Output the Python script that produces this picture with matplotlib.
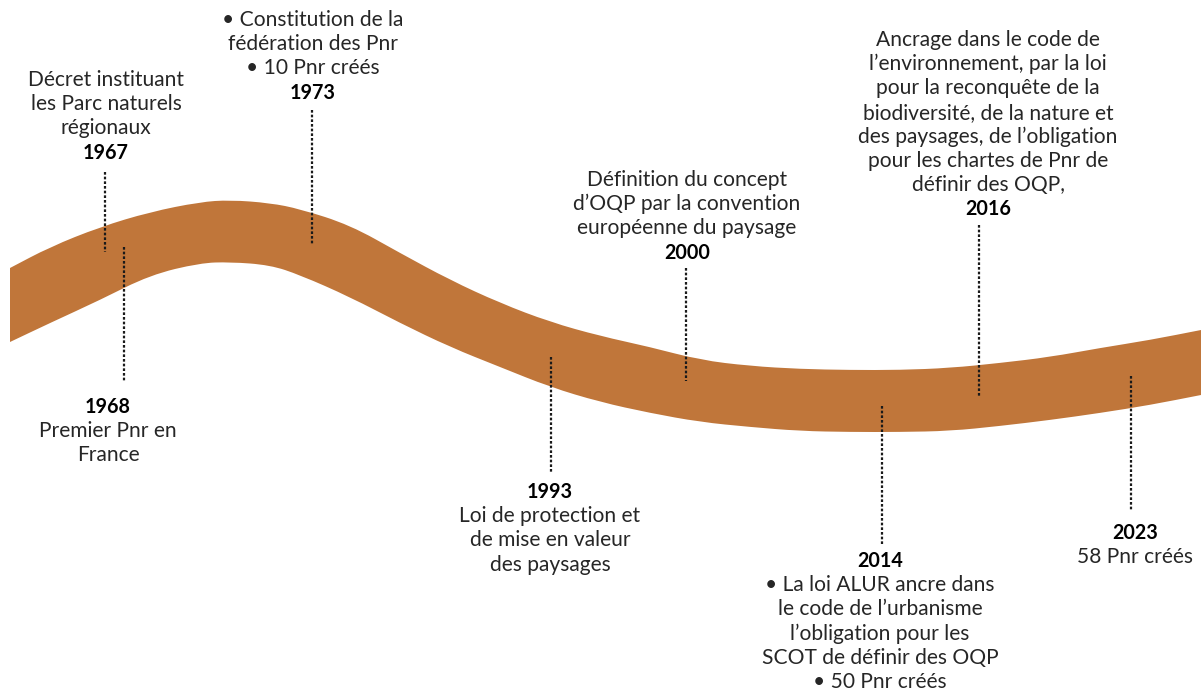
import numpy as np
import matplotlib.pyplot as plt
from matplotlib.path import Path
from matplotlib.patches import PathPatch

# Band outline (pixel coords, y goes down)
band_x   = [10, 50, 100, 150, 200, 230, 270, 300, 350, 400, 450, 500, 550, 600,
            650, 700, 750, 800, 850, 900, 950, 1000, 1050, 1100, 1150, 1201]
band_top = [268, 247, 227, 212, 202, 200, 203, 209, 225, 253, 280, 303, 322, 336,
            347, 360, 366, 369, 370, 370, 368, 363, 357, 348, 340, 330]
band_bot = [342, 323, 300, 275, 263, 262, 265, 275, 297, 323, 347, 367, 387, 402,
            413, 422, 427, 431, 432, 432, 431, 426, 420, 413, 405, 395]

# Events
years = ['1967', '1968', '1973', '1993', '2000', '2014', '2016', '2023']
texts = [
    ['Décret instituant', 'les Parc naturels', 'régionaux'],
    ['Premier Pnr en', 'France'],
    ['• Constitution de la', 'fédération des Pnr', '• 10 Pnr créés'],
    ['Loi de protection et', 'de mise en valeur', 'des paysages'],
    ['Définition du concept', 'd\u2019OQP par la convention', 'européenne du paysage'],
    ['• La loi ALUR ancre dans', 'le code de l\u2019urbanisme', 'l\u2019obligation pour les',
     'SCOT de définir des OQP', '• 50 Pnr créés'],
    ['Ancrage dans le code de', 'l\u2019environnement, par la loi', 'pour la reconquête de la',
     'biodiversité, de la nature et', 'des paysages, de l\u2019obligation',
     'pour les chartes de Pnr de', 'définir des OQP,'],
    ['58 Pnr créés'],
]

# layout: text above or below the band
side    = ['above', 'below', 'above', 'below', 'above', 'below', 'above', 'below']
line_x  = [105, 124, 312, 551, 686, 882, 979, 1131]
line_y0 = [172, 247, 110, 357, 268, 406, 225, 376]
line_y1 = [252, 382, 245, 472, 381, 545, 397, 510]
text_x  = [106, 108, 313, 550, 687, 880, 988, 1135]
text_y0 = [80, 407, 20, 492, 180, 561, 40, 533]  # centre of first line
LINE_H = 24.2

BAND_COLOR = '#C0763A'
TEXT_COLOR = '#262626'
FONT = 'Lato'
FS = 15.1
FS_YEAR = 14.2


def smooth_path(xs, ys):
    pts = list(zip(xs, ys))
    verts = [pts[0]]
    codes = [Path.LINETO]
    mids = [((pts[i][0] + pts[i + 1][0]) / 2, (pts[i][1] + pts[i + 1][1]) / 2)
            for i in range(len(pts) - 1)]
    verts.append(mids[0]); codes.append(Path.LINETO)
    for i in range(1, len(pts) - 1):
        verts += [pts[i], mids[i]]
        codes += [Path.CURVE3, Path.CURVE3]
    verts.append(pts[-1]); codes.append(Path.LINETO)
    return verts, codes


fig = plt.figure(figsize=(12.01, 6.93), dpi=100)
ax = fig.add_axes([0, 0, 1, 1])
ax.set_xlim(0, 1201)
ax.set_ylim(693, 0)
ax.axis('off')

tv, tc = smooth_path(band_x, band_top)
bv, bc = smooth_path(band_x[::-1], band_bot[::-1])
tc[0] = Path.MOVETO
verts = tv + bv + [tv[0]]
codes = tc + bc + [Path.CLOSEPOLY]
ax.add_patch(PathPatch(Path(verts, codes), facecolor=BAND_COLOR, edgecolor='none', zorder=1))

for i, yr in enumerate(years):
    ax.plot([line_x[i], line_x[i]], [line_y0[i], line_y1[i]], color='#1a1a1a',
            lw=1.6, linestyle=(0, (1.2, 0.9)), zorder=3)
    if side[i] == 'above':
        rows = [(t, 'normal', TEXT_COLOR, FS) for t in texts[i]] + [(yr, 'bold', 'black', FS_YEAR)]
    else:
        rows = [(yr, 'bold', 'black', FS_YEAR)] + [(t, 'normal', TEXT_COLOR, FS) for t in texts[i]]
    for j, (t, w, c, s) in enumerate(rows):
        ax.text(text_x[i], text_y0[i] + j * LINE_H, t, ha='center', va='center',
                fontsize=s, fontweight=w, color=c, family=FONT, zorder=4)

fig.savefig('out.png', dpi=100, facecolor='white')
